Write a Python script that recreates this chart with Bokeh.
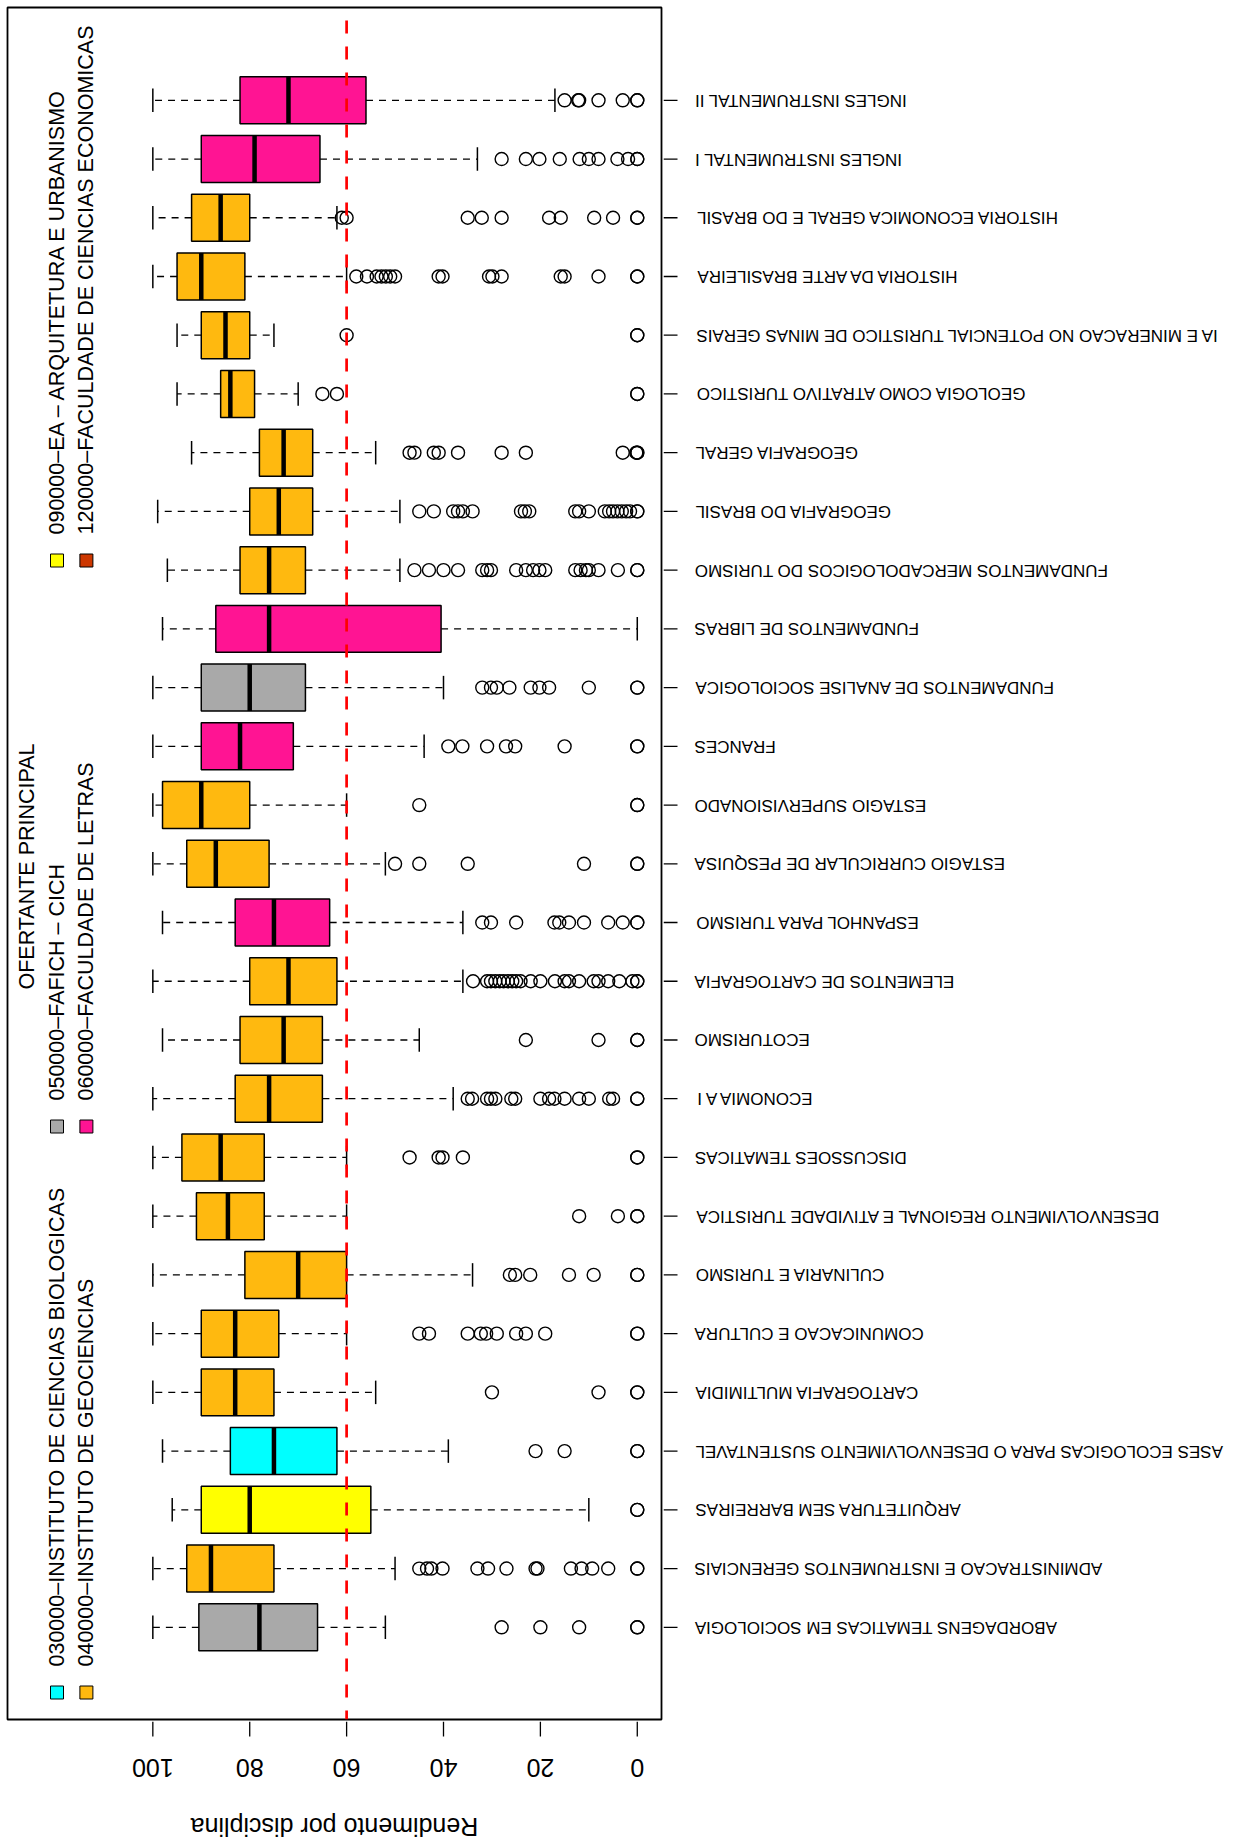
import math
from bokeh.plotting import figure
from bokeh.layouts import column, row
from bokeh.models import Range1d, Span, ColumnDataSource
from bokeh.core.properties import value
from bokeh.embed import file_html
from bokeh.resources import INLINE

# ---------------- data (bottom -> top) ----------------
CATEGORIES = [
    "ABORDAGENS TEMATICAS EM SOCIOLOGIA",
    "ADMINISTRACAO E INSTRUMENTOS GERENCIAIS",
    "ARQUITETURA SEM BARREIRAS",
    "ASES ECOLOGICAS PARA O DESENVOLVIMENTO SUSTENTAVEL",
    "CARTOGRAFIA MULTIMIDIA",
    "COMUNICACAO E CULTURA",
    "CULINARIA E TURISMO",
    "DESENVOLVIMENTO REGIONAL E ATIVIDADE TURISTICA",
    "DISCUSSOES TEMATICAS",
    "ECONOMIA A I",
    "ECOTURISMO",
    "ELEMENTOS DE CARTOGRAFIA",
    "ESPANHOL PARA TURISMO",
    "ESTAGIO CURRICULAR DE PESQUISA",
    "ESTAGIO SUPERVISIONADO",
    "FRANCES",
    "FUNDAMENTOS DE ANALISE SOCIOLOGICA",
    "FUNDAMENTOS DE LIBRAS",
    "FUNDAMENTOS MERCADOLOGICOS DO TURISMO",
    "GEOGRAFIA DO BRASIL",
    "GEOGRAFIA GERAL",
    "GEOLOGIA COMO ATRATIVO TURISTICO",
    "IA E MINERACAO NO POTENCIAL TURISTICO DE MINAS GERAIS",
    "HISTORIA DA ARTE BRASILEIRA",
    "HISTORIA ECONOMICA GERAL E DO BRASIL",
    "INGLES INSTRUMENTAL I",
    "INGLES INSTRUMENTAL II",
]
OFERTANTE = ["050000", "040000", "090000", "030000", "040000", "040000", "040000",
             "040000", "040000", "040000", "040000", "040000", "060000", "040000",
             "040000", "060000", "050000", "060000", "040000", "040000", "040000",
             "040000", "040000", "040000", "040000", "060000", "060000"]

WHISKER_HIGH = [100, 100, 96, 98, 100, 100, 100, 100, 100, 100, 98, 100, 98, 100,
                100, 100, 100, 98, 97, 99, 92, 95, 95, 100, 100, 100, 100]
Q3 = [90.5, 93, 90, 84, 90, 90, 81, 91, 94, 83, 82, 80, 83, 93,
      98, 90, 90, 87, 82, 80, 78, 86, 90, 95, 92, 90, 82]
MEDIAN = [78, 88, 80, 75, 83, 83, 70, 84.5, 86, 76, 73, 72, 75, 87,
          90, 82, 80, 76, 76, 74, 73, 84, 85, 90, 86, 79, 72]
Q1 = [66, 75, 55, 62, 75, 74, 60, 77, 77, 65, 65, 62, 63.5, 76,
      80, 71, 68.5, 40.5, 68.5, 67, 67, 79, 80, 81, 80, 65.5, 56]
WHISKER_LOW = [52, 50, 10, 39, 54, 60, 34, 60, 60, 38, 45, 36, 36, 52,
               60, 44, 40, 0, 49, 49, 54, 70, 75, 60, 62, 33, 17]
OUTLIERS = [
    [28, 20, 12, 0, 0],
    [45, 43.4, 42.5, 40.2, 33, 30.8, 27, 21, 20.6, 13.7, 11.5, 9.3, 6, 0, 0],
    [0, 0],
    [21, 15, 0, 0],
    [30, 8, 0, 0],
    [45, 43, 35, 32.3, 31.2, 29, 25, 23, 19, 0, 0],
    [26.3, 25.2, 22.1, 14.1, 9, 0, 0],
    [12, 4, 0, 0],
    [47, 41, 40.2, 36, 0, 0],
    [35, 34.1, 31, 30.2, 29.3, 26, 25.2, 20, 18.2, 17.1, 15, 12, 10, 5.8, 5, 0, 0],
    [23, 8, 0, 0],
    [33.9, 31, 30.2, 29.3, 28.4, 27.6, 26.7, 25.8, 25, 24.1, 22, 20, 17, 15, 14.1,
     12, 9, 8, 6, 3.7, 1, 0, 0],
    [32, 30.2, 25, 17.1, 16.1, 14.1, 11, 6, 3, 0, 0],
    [50, 45, 35, 11, 0, 0],
    [45, 0, 0],
    [39, 36.1, 31, 27.1, 25.2, 15, 0, 0],
    [32, 30.2, 29, 26.4, 22, 20.2, 18.2, 10, 0, 0],
    [],
    [46, 43, 40, 37, 32, 31, 30.2, 25, 23, 21.5, 20.2, 19, 12.8, 11.7, 10.6, 10, 8, 4, 0, 0],
    [45, 42, 38, 37, 36, 34, 24, 23.2, 22.3, 12.8, 12, 10, 6.7, 5.8, 5, 4.1, 3.2, 2.3, 1.5, 0, 0],
    [47, 46, 42, 41, 37, 28, 23, 3, 0.2, 0, 0],
    [65, 62, 0, 0],
    [60, 0, 0],
    [58, 55.8, 53.8, 52.8, 51.9, 51, 50, 41, 40.2, 30.6, 29.9, 28, 15.8, 15, 8, 0, 0],
    [61, 60, 35, 32.1, 28, 18.2, 15.8, 8.9, 5, 0, 0],
    [28, 23, 20.2, 16, 11.9, 10, 8, 4.1, 1.9, 0, 0],
    [15, 12.2, 12, 8, 3, 0, 0],
]
THRESHOLD = 60
X_TICKS = [0, 20, 40, 60, 80, 100]

LEGEND_TITLE = "OFERTANTE PRINCIPAL"
LEGEND_CODES = ["030000", "040000", "050000", "060000", "090000", "120000"]
LEGEND_LABELS = [
    "030000–INSTITUTO DE CIENCIAS BIOLOGICAS",
    "040000–INSTITUTO DE GEOCIENCIAS",
    "050000–FAFICH – CICH",
    "060000–FACULDADE DE LETRAS",
    "090000–EA – ARQUITETURA E URBANISMO",
    "120000–FACULDADE DE CIENCIAS ECONOMICAS",
]
LEGEND_COLORS = ["#00FFFF", "#FFB90F", "#A9A9A9", "#FF1493", "#FFFF00", "#CD3700"]

# ---------------- layout constants ----------------
FONT = value("Liberation Sans")
PAGE_W, PAGE_H = 1240, 1845
FR_L, FR_T, FR_GAP = 7, 7, 2          # main frame offsets
FRAME_W, FRAME_H = 654, 1712          # main frame size
MAIN_W = FR_L + FRAME_W + FR_GAP
MAIN_H = FR_T + FRAME_H + FR_GAP
LAB_W = PAGE_W - MAIN_W
LAB_CLIP = 15
BOT_H = PAGE_H - MAIN_H
X0, X1 = 130, -5
Y0, Y1 = -0.57, 28.58

color_of = dict(zip(LEGEND_CODES, LEGEND_COLORS))
pos = list(range(1, len(CATEGORIES) + 1))
BOXW = 0.8

def px_x(px):  # px from frame left -> data x
    return X0 + (X1 - X0) * px / FRAME_W

def px_y(py):  # px from frame top -> data y
    return Y1 - (Y1 - Y0) * py / FRAME_H

def base_fig(**kw):
    f = figure(output_backend="svg", toolbar_location=None,
               x_axis_location=None, y_axis_location=None,
               background_fill_color="white", border_fill_color="white", **kw)
    f.grid.visible = False
    return f

# ---------------- main figure ----------------
p = base_fig(width=MAIN_W, height=MAIN_H, x_range=Range1d(X0, X1), y_range=Range1d(Y0, Y1),
             min_border_left=FR_L, min_border_right=FR_GAP, min_border_top=FR_T,
             min_border_bottom=FR_GAP, outline_line_color="black", outline_line_width=1.8)

src = ColumnDataSource(dict(
    y=pos, q1=Q1, q3=Q3, med=MEDIAN, wlo=WHISKER_LOW, whi=WHISKER_HIGH,
    color=[color_of[c] for c in OFERTANTE],
    cap0=[v - BOXW / 4 for v in pos], cap1=[v + BOXW / 4 for v in pos],
    b0=[v - BOXW / 2 for v in pos], b1=[v + BOXW / 2 for v in pos],
))

p.segment(x0="q3", y0="y", x1="whi", y1="y", source=src, line_color="black",
          line_width=1.3, line_dash="7 6")
p.segment(x0="q1", y0="y", x1="wlo", y1="y", source=src, line_color="black",
          line_width=1.3, line_dash="7 6")
p.segment(x0="whi", y0="cap0", x1="whi", y1="cap1", source=src, line_color="black", line_width=1.5)
p.segment(x0="wlo", y0="cap0", x1="wlo", y1="cap1", source=src, line_color="black", line_width=1.5)
p.hbar(y="y", left="q1", right="q3", height=BOXW, source=src, fill_color="color",
       line_color="black", line_width=1.5)
p.segment(x0="med", y0="b0", x1="med", y1="b1", source=src, line_color="black",
          line_width=4.5, line_cap="butt")

ox, oy = [], []
for i, outs in enumerate(OUTLIERS):
    for v in outs:
        ox.append(v)
        oy.append(pos[i])
p.scatter(x=ox, y=oy, marker="circle", size=13, fill_color=None,
          line_color="black", line_width=1.4)

p.add_layout(Span(location=THRESHOLD, dimension="height", line_color="#FF0000",
                  line_width=2.7, line_dash="13 13", line_dash_offset=13))

# legend (rotated, as in the reference)
sq_x, sq_y, tx_x, tx_y = [], [], [], []
for i in range(len(LEGEND_LABELS)):
    col, rw = i // 2, i % 2
    xpx = 49.5 + 29.4 * rw
    ypx_sq = 1685 - 566 * col
    sq_x.append(px_x(xpx)); sq_y.append(px_y(ypx_sq))
    tx_x.append(px_x(xpx)); tx_y.append(px_y(ypx_sq - 26))
p.scatter(x=sq_x, y=sq_y, marker="square", size=13, fill_color=LEGEND_COLORS,
          line_color="black", line_width=1)
p.text(x=tx_x, y=tx_y, text=LEGEND_LABELS, angle=math.pi / 2, text_align="left",
       text_baseline="middle", text_font=FONT, text_font_size="21.5px", text_color="black")
p.text(x=[px_x(19)], y=[px_y(859)], text=[LEGEND_TITLE], angle=math.pi / 2,
       text_align="center", text_baseline="middle", text_font=FONT,
       text_font_size="21.5px", text_color="black")

# ---------------- category labels (right side) ----------------
r = base_fig(width=LAB_W, height=MAIN_H, x_range=Range1d(0, LAB_W - LAB_CLIP), y_range=p.y_range,
             min_border_left=0, min_border_right=LAB_CLIP, min_border_top=FR_T,
             min_border_bottom=FR_GAP, outline_line_color=None)
r.segment(x0=0, y0=pos, x1=14, y1=pos, line_color="black", line_width=1.3)
r.text(x=31, y=pos, text=CATEGORIES, angle=math.pi, text_align="right",
       text_baseline="middle", text_font=FONT, text_font_size="17px", text_color="black")

# ---------------- value axis (bottom) ----------------
b = base_fig(width=MAIN_W, height=BOT_H, x_range=p.x_range, y_range=Range1d(BOT_H, 0),
             min_border_left=FR_L, min_border_right=FR_GAP, min_border_top=0,
             min_border_bottom=0, outline_line_color=None)
b.segment(x0=X_TICKS, y0=0, x1=X_TICKS, y1=15, line_color="black", line_width=1.3)
b.text(x=X_TICKS, y=46, text=[str(t) for t in X_TICKS], angle=math.pi, text_align="center",
       text_baseline="middle", text_font=FONT, text_font_size="25px", text_color="black")
b.text(x=[(X0 + X1) / 2], y=[105], text=["Rendimento por disciplina"], angle=math.pi,
       text_align="center", text_baseline="middle", text_font=FONT,
       text_font_size="25px", text_color="black")

layout = column(row(p, r, spacing=0), b, spacing=0)
open("out.html", "w").write(file_html(layout, INLINE))
